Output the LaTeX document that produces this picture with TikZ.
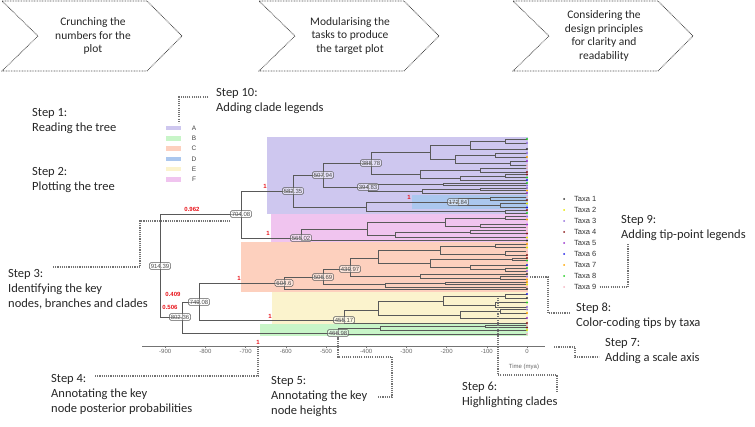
\documentclass[tikz,border=0pt]{standalone}
\usepackage{fontspec}
\setmainfont{Carlito}
\newfontfamily\arialf{Liberation Sans}
\definecolor{cladeA}{HTML}{CEC7EF}
\definecolor{cladeB}{HTML}{C8F5C8}
\definecolor{cladeC}{HTML}{FDD0BE}
\definecolor{cladeD}{HTML}{ABC7EE}
\definecolor{cladeE}{HTML}{FBF3CD}
\definecolor{cladeF}{HTML}{F0C4EF}
\definecolor{ppred}{HTML}{E8141B}
\definecolor{tx1}{HTML}{333333}
\definecolor{tx2}{HTML}{E6E600}
\definecolor{tx3}{HTML}{9370DB}
\definecolor{tx4}{HTML}{8B1A1A}
\definecolor{tx5}{HTML}{9932CC}
\definecolor{tx6}{HTML}{1E1EE6}
\definecolor{tx7}{HTML}{FFA500}
\definecolor{tx8}{HTML}{22CC22}
\definecolor{tx9}{HTML}{F4B6C2}
\begin{document}
\begin{tikzpicture}[x=1pt,y=-1pt,
  chev/.style={draw=black!70,line width=0.8pt,dash pattern=on 0.8pt off 0.8pt},
  chevtxt/.style={align=center,inner sep=0pt,font=\fontsize{11.5}{13.5}\selectfont,text=black!85},
  leader/.style={draw=black!55,line width=1.1pt,dash pattern=on 1.1pt off 1.1pt},
  steplbl/.style={anchor=west,align=left,inner sep=0pt,font=\fontsize{12.5}{15}\selectfont,text=black!85},
  branch/.style={draw=black!65,line width=0.55pt},
  ht/.style={draw=black!65,rounded corners=1.5pt,fill=white,fill opacity=0.45,text opacity=1,inner xsep=1.5pt,inner ysep=1.3pt,line width=0.5pt,font=\arialf\fontsize{6}{6.5}\selectfont,text=black!70},
  pp/.style={text=ppred,font=\arialf\bfseries\fontsize{6}{6}\selectfont,inner sep=0pt},
  axisln/.style={draw=black!55,line width=0.5pt},
  ticklbl/.style={font=\arialf\fontsize{6}{7}\selectfont,text=black!60,inner sep=1pt},
  lgl/.style={font=\arialf\fontsize{6.5}{7}\selectfont,text=black!75,inner sep=0pt},
  sm/.style={font=\arialf\fontsize{7.5}{8}\selectfont,text=black!80,inner sep=0pt}]
\useasboundingbox (0,0) rectangle (755,427);
% process chevrons
\foreach \l/\t [count=\i] in {2/{Crunching the\\numbers for the\\plot},259/{Modularising the\\tasks to produce\\the target plot},513/{Considering the\\design principles\\for clarity and\\readability}} {
  \draw[chev] (\l,1) -- (\l+145,1) -- (\l+180,36) -- (\l+145,71) -- (\l,71) -- (\l+36,36) -- cycle;
  \node[chevtxt] (c\i) at (\l+91,36) {\t};
}
% clade highlights
\fill[cladeA] (267,137) rectangle (528,214);
\fill[cladeD] (412,195.5) rectangle (528,209);
\fill[cladeF] (271,214) rectangle (528,242);
\fill[cladeC] (241,242) rectangle (528,292);
\fill[cladeE] (272,292) rectangle (528,324);
\fill[cladeB] (260,324) rectangle (528,336);
% tree: node x / upper child y / lower child y / upper child x / lower child x
\foreach \x/\ya/\yb/\xa/\xb [count=\n] in {
  160/214/317/241/182, % 914.39
  241/191/238/293/301, % 704.08
  293/175/207/323/366, % 582.35
  323/163/187/371/368, % 507.94
  371/152/174/430/420, % 388.78
  430/145/159/470/455,
  470/141/149/505/527,
  505/139/143/527/527,
  455/155/163/495/510,
  495/153/157/527/527,
  510/161/165/527/527,
  420/170/178/480/460,
  480/168/172/527/527,
  460/176/180/505/527,
  505/174.5/177.5/527/527,
  368/184/191/443/422, % 394.83
  443/183/185.5/527/527,
  422/189/193/480/527,
  480/188/190.5/527/527,
  366/202/211.5/458/505,
  458/198.5/205.5/490/500, % 172.84
  490/197/200/527/527,
  500/203.5/207.5/527/527,
  505/210/213/527/527,
  301/229/240.5/367/527, % 565.02
  367/222/235/445/395,
  445/218/226/505/480,
  505/216.5/219.5/527/527,
  480/224.5/227.5/527/527,
  395/232/237.5/470/527,
  470/230.5/233.5/527/527,
  182/302/333/199/338, % 802.36
  199/283/320/284/344, % 749.08
  284/277/289/323/527, % 604.6
  323/269/284.5/350/385, % 506.69
  350/258/276/378/420, % 439.97
  378/250/263/440/430,
  440/246/254/495/505,
  495/244/247.5/527/527,
  505/251.5/255/527/527,
  430/259/267/512/470,
  512/258/260.5/527/527,
  470/265/269/527/505,
  505/268/271/527/527,
  420/274/278/527/500,
  500/276.5/279.5/527/527,
  385/283/287/445/527,
  445/282/284.5/527/527,
  344/310/323/378/527, % 455.17
  378/301/315/443/460,
  443/296/305/505/495,
  505/294/298/527/527,
  495/302.5/307/527/527,
  460/311/318/500/527,
  500/309.5/313/527/527,
  338/328/334/380/527, % 466.98
  380/326/330/485/527,
  485/325/327.5/527/527} {
  \draw[branch] (\xa,\ya) -| (\x,\yb) -- (\xb,\yb);
  \pgfmathtruncatemacro\ca{mod(2*\n,9)+1}
  \pgfmathtruncatemacro\cb{mod(2*\n+4,9)+1}
  \ifnum\xa=527 \fill[tx\ca] (527,\ya) circle (1.1pt); \fi
  \ifnum\xb=527 \fill[tx\cb] (527,\yb) circle (1.1pt); \fi
}
% node heights
\foreach \x/\y/\t [count=\i] in {160/266/914.39,241/214/704.08,293/191/582.35,323/175/507.94,371/163/388.78,368/187/394.83,458/202/172.84,301/238/565.02,199/302/749.08,180/317/802.36,284/283/604.6,323/277/506.69,350/269/439.97,344/320/455.17,338/333/466.98}
  \node[ht] (h\i) at (\x,\y) {\t};
% posterior probabilities
\foreach \x/\y/\t [count=\i] in {192/209/0.962,265/186/1,409/197/1,268/233/1,239/278/1,173/294/0.409,170/307/0.506,270/316/1,258/342/1}
  \node[pp] (p\i) at (\x,\y) {\t};
% scale axis
\draw[axisln] (142,346) -- (545,346);
\foreach \t [count=\i] in {-900,-800,...,0}
  \draw[axisln] (527+0.402*\t,346) -- ++(0,2.5) node[ticklbl,below] (tk\i) {\t};
\node[ticklbl] (tm) at (524,367) {Time (mya)};
% clade legend
\foreach \c [count=\i] in {A,B,C,D,E,F} {
  \fill[clade\c] (166,115.5+10.3*\i) rectangle ++(15,4.5);
  \node[lgl] (lg\c) at (194,117.7+10.3*\i) {\c};
}
% tip legend
\foreach \i in {1,...,9} {
  \fill[tx\i] (564,188+11*\i) circle (1pt);
  \node[sm,anchor=west] (t\i) at (574,188+11*\i) {Taxa \i};
}
% steps
\node[steplbl] (s1) at (32,121.5) {Step 1:\\Reading the tree};
\node[steplbl] (s2) at (32,180.5) {Step 2:\\Plotting the tree};
\node[steplbl] (s3) at (8,289.5) {Step 3:\\Identifying the key\\nodes, branches and clades};
\node[steplbl] (s4) at (51,394) {Step 4:\\Annotating the key\\node posterior probabilities};
\node[steplbl] (s5) at (271,397) {Step 5:\\Annotating the key\\node heights};
\node[steplbl] (s6) at (462,394.5) {Step 6:\\Highlighting clades};
\node[steplbl] (s7) at (605,351.5) {Step 7:\\Adding a scale axis};
\node[steplbl] (s8) at (576,315.5) {Step 8:\\Color-coding tips by taxa};
\node[steplbl] (s9) at (621,228.5) {Step 9:\\Adding tip-point legends};
\node[steplbl] (s10) at (216,101.5) {Step 10:\\Adding clade legends};
% leaders
\coordinate (k10) at (208,97); \coordinate (k10e) at (179,123);
\draw[leader] (k10) -| (k10e);
\coordinate (k3) at (53,267); \coordinate (k3b) at (140,221);
\draw[leader] (k3) -| (k3b) -- (k3b -| h2.west);
\coordinate (k4) at (95,376);
\draw[leader] (k4) -| ([yshift=-3pt]p9.south);
\coordinate (k5) at (378,397); \coordinate (k5b) at (392,357);
\draw[leader] (k5) -| (k5b) -| (h15.south);
\coordinate (k6) at (557,392); \coordinate (k6b) at (498,375); \coordinate (k6e) at (498,298);
\draw[leader] (k6) |- (k6b) -- (k6e);
\coordinate (k7) at (554,347); \coordinate (k7b) at (575,357); \coordinate (k7e) at (599,357);
\draw[leader] (k7) -| (k7b) -- (k7e);
\coordinate (k8) at (530,277); \coordinate (k8b) at (548,313); \coordinate (k8e) at (570,313);
\draw[leader] (k8) -| (k8b) -- (k8e);
\coordinate (k9e) at (628,244);
\draw[leader] ([xshift=3pt]t9.east) -| (k9e);
\end{tikzpicture}
\end{document}
